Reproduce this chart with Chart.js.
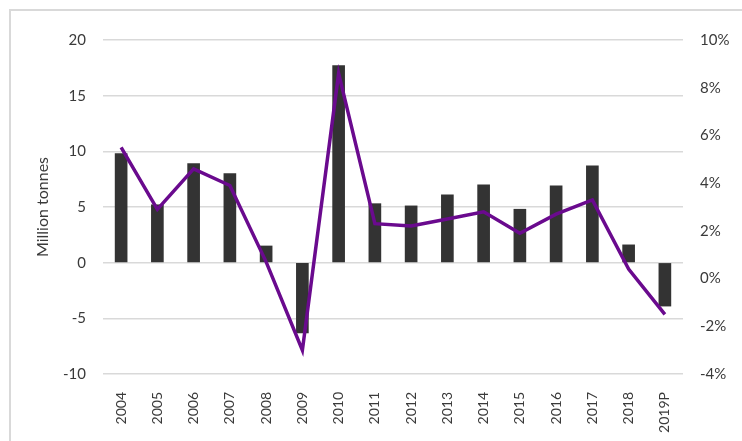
<!DOCTYPE html>
<html>
<head>
<meta charset="utf-8">
<script src="https://cdn.jsdelivr.net/npm/chart.js@4.4.1/dist/chart.umd.min.js"></script>
<style>
  html, body { margin: 0; padding: 0; background: #ffffff; overflow: hidden; }
  #frame { position: absolute; left: 9px; top: 9px; width: 800px; height: 500px;
           border-left: 2px solid #d9d9d9; border-top: 2px solid #d9d9d9; }
  #c { position: absolute; left: 0; top: 0; }
</style>
</head>
<body>
<div id="frame"></div>
<canvas id="c" width="742" height="441"></canvas>
<script>
const categories = ["2004","2005","2006","2007","2008","2009","2010","2011","2012","2013","2014","2015","2016","2017","2018","2019P"];
const tonnes = [9.8, 5.2, 8.9, 8.0, 1.5, -6.3, 17.7, 5.3, 5.1, 6.1, 7.0, 4.8, 6.9, 8.7, 1.6, -3.9];
const growthPct = [5.5, 2.9, 4.6, 3.9, 0.7, -3.0, 8.6, 2.3, 2.2, 2.5, 2.8, 1.9, 2.7, 3.3, 0.4, -1.5];
const leftTicks = [-10, -5, 0, 5, 10, 15, 20];
const rightTicks = [-4, -2, 0, 2, 4, 6, 8, 10];

const FONT = "Lato, 'Open Sans', sans-serif";
const TXT = "#3a3a3a";

new Chart(document.getElementById('c'), {
  data: {
    labels: categories,
    datasets: [
      {
        type: 'line',
        data: growthPct,
        yAxisID: 'yR',
        borderColor: '#6a0a8e',
        borderWidth: 3.5,
        pointRadius: 0,
        tension: 0,
        order: 0
      },
      {
        type: 'bar',
        data: tonnes,
        yAxisID: 'y',
        backgroundColor: '#333333',
        barThickness: 12,
        order: 1
      }
    ]
  },
  options: {
    responsive: false,
    animation: false,
    layout: { padding: { left: 29, top: 40, right: 0, bottom: 0 } },
    plugins: { legend: { display: false }, tooltip: { enabled: false } },
    scales: {
      x: {
        grid: { display: false },
        border: { display: false },
        ticks: { color: TXT, font: { family: FONT, size: 14 }, minRotation: 90, maxRotation: 90, autoSkip: false, padding: 10 },
        afterFit: s => { s.height = 67; }
      },
      y: {
        position: 'left',
        min: -10, max: 20,
        afterBuildTicks: s => { s.ticks = leftTicks.map(v => ({ value: v })); },
        grid: { color: '#d9d9d9', lineWidth: 1.5, drawTicks: false },
        border: { display: false },
        ticks: { color: TXT, font: { family: FONT, size: 15 }, padding: 17 },
        title: { display: true, text: 'Million tonnes', color: TXT, font: { family: FONT, size: 16 }, padding: 4 },
        afterFit: s => { s.width = 74; }
      },
      yR: {
        position: 'right',
        min: -4, max: 10,
        afterBuildTicks: s => { s.ticks = rightTicks.map(v => ({ value: v })); },
        grid: { display: false, drawTicks: false },
        border: { display: false },
        ticks: { color: TXT, font: { family: FONT, size: 15 }, padding: 17, callback: v => v + '%' },
        afterFit: s => { s.width = 59; }
      }
    }
  }
});
</script>
</body>
</html>
